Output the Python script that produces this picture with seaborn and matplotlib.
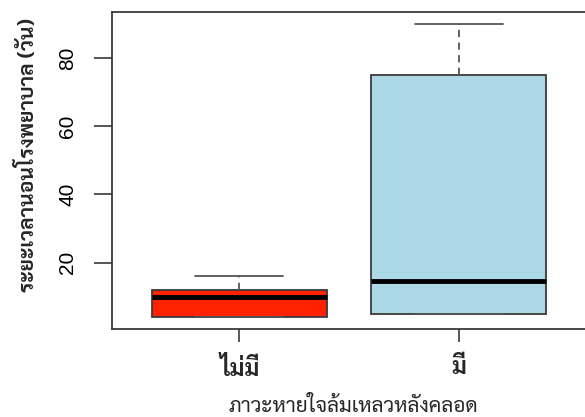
import matplotlib
matplotlib.use("Agg")
import matplotlib.pyplot as plt
import seaborn as sns
import pandas as pd

# Five-number summary of hospital stay (days) for each group
groups = ["ไม่มี", "มี"]
stay_no = [4, 4, 10, 12, 16]
stay_yes = [5, 5, 14.5, 75, 90]
box_colors = ["#ff2200", "#add8e6"]

y_ticks = [20, 40, 60, 80]
x_title = "ภาวะหายใจล้มเหลวหลังคลอด"
y_title = "ระยะเวลานอนโรงพยาบาล (วัน)"

df = pd.DataFrame({
    "group": [groups[0]] * len(stay_no) + [groups[1]] * len(stay_yes),
    "days": stay_no + stay_yes,
})

sns.set_style("white")
plt.rcParams["font.family"] = ["Sarabun", "DejaVu Sans"]

fig = plt.figure(figsize=(5.85, 4.17), dpi=100)
ax = fig.add_axes([0.1915, 0.211, 0.81, 0.76])

edge = "#3a3a3a"
sns.boxplot(
    data=df, x="group", y="days", hue="group", order=groups, hue_order=groups,
    palette=box_colors, saturation=1, width=0.8, whis=(0, 100), legend=False,
    ax=ax, linecolor=edge, linewidth=1.3, showfliers=False,
    whiskerprops=dict(linestyle=(0, (4, 3)), color="#555555", linewidth=1.3),
    capprops=dict(color="#555555", linewidth=1.3),
    medianprops=dict(color="black", linewidth=3.5),
    boxprops=dict(edgecolor=edge),
)

ax.set_xlim(-0.58, 1.58)
ax.set_ylim(0.56, 93.44)

ax.set_yticks(y_ticks)
ax.set_yticklabels([str(t) for t in y_ticks], rotation=90, va="center")
for lab in ax.get_yticklabels():
    lab.set_fontfamily("Liberation Sans")
    lab.set_fontsize(15)
    lab.set_color("black")
ax.set_xticks([0, 1])
ax.set_xticklabels(groups, fontsize=17, fontweight="bold")
ax.tick_params(axis="y", left=True, length=13, width=1.2, color=edge, pad=12)
ax.tick_params(axis="x", bottom=True, length=9, width=1.2, color=edge, pad=11)

ax.set_xlabel(x_title, fontsize=15, va="top")
ax.xaxis.set_label_coords(0.51, -0.21)
ax.set_ylabel(y_title, fontsize=15, fontweight="bold", va="center")
ax.yaxis.set_label_coords(-0.177, 0.55)

for s in ax.spines.values():
    s.set_color(edge)
    s.set_linewidth(1.3)
    s.set_visible(True)

fig.savefig("out.png", dpi=100)
